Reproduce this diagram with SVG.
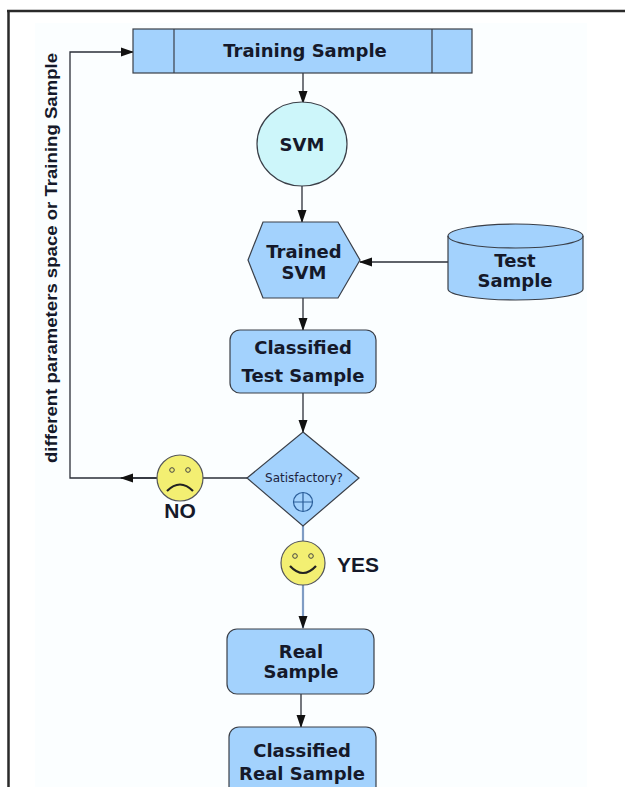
<svg xmlns="http://www.w3.org/2000/svg" width="625" height="787" viewBox="0 0 625 787">
<style>
.box{fill:#a3d2fd;stroke:#3a3f48;stroke-width:1.2}
.lbl{font-family:"DejaVu Sans",Verdana,sans-serif;font-weight:bold;font-size:18px;fill:#15192a;text-anchor:middle}
.ar{font-family:"Liberation Sans",Arial,sans-serif;font-weight:bold;fill:#15192a}
.con{fill:none;stroke:#2b2f38;stroke-width:1.3}
.face{fill:#f3ef72;stroke:#55575a;stroke-width:1.2}
</style>
<defs>
<marker id="ah" markerWidth="13" markerHeight="10" refX="12" refY="5" orient="auto" markerUnits="userSpaceOnUse">
<path d="M0,0.5 L13,5 L0,9.5 Z" fill="#111"/>
</marker>
</defs>
<rect x="0" y="0" width="625" height="787" fill="#ffffff"/>
<rect x="35" y="23" width="552" height="764" fill="#fbfeff"/>
<path d="M7,11 H625 M8.5,11 V787" stroke="#2a2a2a" stroke-width="2.5" fill="none"/>

<g id="connectors">
<line class="con" x1="303" y1="73" x2="303" y2="103" marker-end="url(#ah)"/>
<line class="con" x1="302" y1="186" x2="302" y2="222" marker-end="url(#ah)"/>
<line class="con" x1="448" y1="262" x2="360" y2="262" marker-end="url(#ah)"/>
<line class="con" x1="303" y1="298" x2="303" y2="330" marker-end="url(#ah)"/>
<line class="con" x1="303" y1="393" x2="303" y2="432" marker-end="url(#ah)"/>
<line class="con" x1="247" y1="478" x2="203" y2="478"/>
<path class="con" d="M157,478 H70 V52 H133" marker-end="url(#ah)"/>
<line class="con" x1="157" y1="478" x2="121" y2="478" marker-end="url(#ah)"/>
<line x1="303" y1="526" x2="303" y2="541" stroke="#7f9cc4" stroke-width="2.2"/>
<line x1="303" y1="585" x2="303" y2="628" stroke="#7f9cc4" stroke-width="2.2" marker-end="url(#ah)"/>
<line class="con" x1="301" y1="694" x2="301" y2="727" marker-end="url(#ah)"/>
</g>

<text class="ar" font-size="17" text-anchor="middle" textLength="410" lengthAdjust="spacingAndGlyphs" transform="translate(57,258) rotate(-90)">different parameters space or Training Sample</text>

<g id="training-sample">
<rect class="box" x="133" y="29" width="339" height="44"/>
<line x1="174" y1="29" x2="174" y2="73" stroke="#3a3f48" stroke-width="1.2"/>
<line x1="432" y1="29" x2="432" y2="73" stroke="#3a3f48" stroke-width="1.2"/>
<text class="lbl" x="305" y="57">Training Sample</text>
</g>

<g id="svm">
<ellipse cx="302" cy="144" rx="45" ry="42" fill="#cdf6fa" stroke="#3a3f48" stroke-width="1.2"/>
<text class="lbl" x="302" y="151">SVM</text>
</g>

<g id="trained-svm">
<polygon class="box" points="248,260 263,222 338,222 360,260 338,298 263,298"/>
<text class="lbl" x="304" y="258">Trained</text>
<text class="lbl" x="304" y="279">SVM</text>
</g>

<g id="test-sample">
<path class="box" d="M448,236 V289 A67.5,11 0 0 0 583,289 V236 A67.5,12 0 0 0 448,236 Z"/>
<path d="M448,236 A67.5,12 0 0 0 583,236" fill="none" stroke="#3a3f48" stroke-width="1.2"/>
<text class="lbl" x="515" y="267">Test</text>
<text class="lbl" x="515" y="287">Sample</text>
</g>

<g id="classified-test-sample">
<rect class="box" x="230" y="330" width="146" height="63" rx="10"/>
<text class="lbl" x="303" y="354">Classified</text>
<text class="lbl" x="303" y="382">Test Sample</text>
</g>

<g id="satisfactory">
<polygon class="box" points="303,432 359,478 303,526 247,478"/>
<text x="304" y="482" font-family="DejaVu Sans,Verdana,sans-serif" font-size="12" fill="#1d2440" text-anchor="middle">Satisfactory?</text>
<circle cx="303" cy="502" r="9.5" fill="none" stroke="#2b5e9a" stroke-width="1.2"/>
<path d="M293.5,502 H312.5 M303,492.5 V511.5" stroke="#2b5e9a" stroke-width="1.2"/>
</g>

<g id="no">
<circle class="face" cx="180" cy="478" r="23"/>
<circle cx="172" cy="470" r="2.3" fill="none" stroke="#444" stroke-width="1"/>
<circle cx="188" cy="470" r="2.3" fill="none" stroke="#444" stroke-width="1"/>
<path d="M167,491 Q180,478 193,491" fill="none" stroke="#222" stroke-width="2.2"/>
<text class="ar" x="180" y="518" font-size="21" text-anchor="middle">NO</text>
</g>

<g id="yes">
<circle class="face" cx="303" cy="563" r="22"/>
<circle cx="295" cy="556" r="2.3" fill="none" stroke="#444" stroke-width="1"/>
<circle cx="311" cy="556" r="2.3" fill="none" stroke="#444" stroke-width="1"/>
<path d="M290,566 Q303,580 316,566" fill="none" stroke="#222" stroke-width="2.2"/>
<text class="ar" x="337" y="572" font-size="21">YES</text>
</g>

<g id="real-sample">
<rect class="box" x="227" y="629" width="147" height="65" rx="10"/>
<text class="lbl" x="301" y="658">Real</text>
<text class="lbl" x="301" y="678">Sample</text>
</g>

<g id="classified-real-sample">
<rect class="box" x="229" y="727" width="147" height="75" rx="10"/>
<text class="lbl" x="302" y="757">Classified</text>
<text class="lbl" x="302" y="780">Real Sample</text>
</g>
</svg>
